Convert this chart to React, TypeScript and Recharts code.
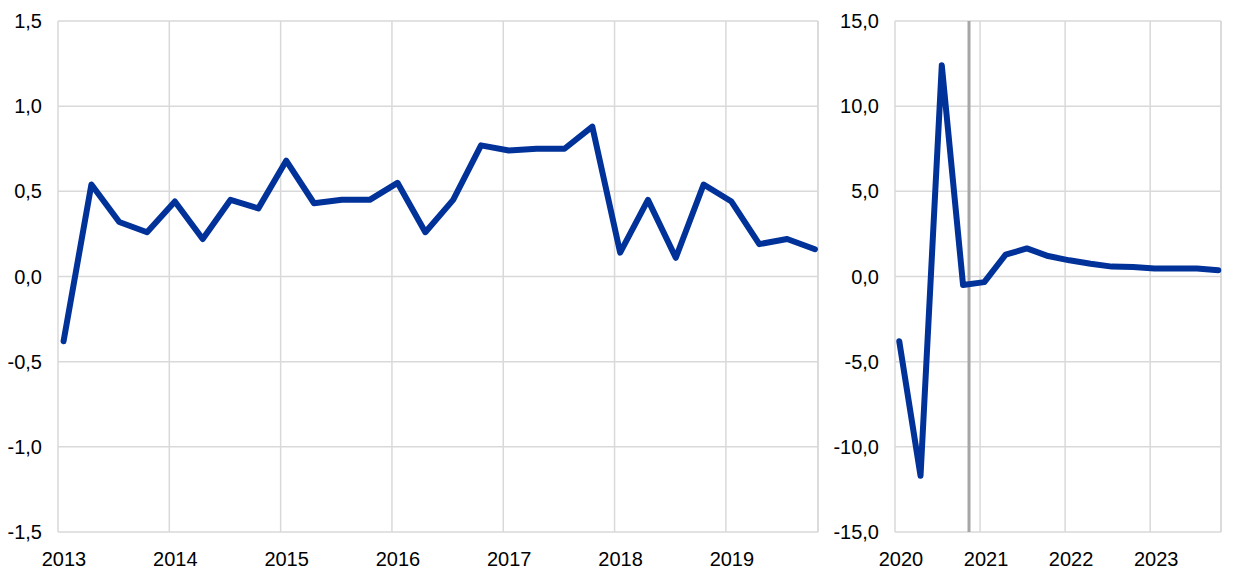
import React from 'react';
import { LineChart, Line, XAxis, YAxis, CartesianGrid, ReferenceLine } from 'recharts';

const leftYears = ['2013', '2014', '2015', '2016', '2017', '2018', '2019'];
const leftValues = [
  -0.38, 0.54, 0.32, 0.26,
  0.44, 0.22, 0.45, 0.40,
  0.68, 0.43, 0.45, 0.45,
  0.55, 0.26, 0.45, 0.77,
  0.74, 0.75, 0.75, 0.88,
  0.14, 0.45, 0.11, 0.54,
  0.44, 0.19, 0.22, 0.16,
];
const leftTicks = [-1.5, -1, -0.5, 0, 0.5, 1, 1.5];

const rightYears = ['2020', '2021', '2022', '2023'];
const rightValues = [
  -3.8, -11.7, 12.4, -0.5,
  -0.33, 1.28, 1.65, 1.2,
  0.95, 0.75, 0.58, 0.56,
  0.47, 0.47, 0.47, 0.37,
];
const rightTicks = [-15, -10, -5, 0, 5, 10, 15];
const projectionStart = 3.48; // quarter index of the vertical marker

const BLUE = '#003299';
const GRID = '#d9d9d9';
const FONT = '"Liberation Sans", Arial, sans-serif';

const leftData = leftValues.map((v, i) => ({ x: i + 0.2, v }));
const rightData = rightValues.map((v, i) => ({ x: i + 0.2, v }));

const fmt = (v: number) => v.toFixed(1).replace('.', ',');

const makeXTick = (years: string[]) => (props: any) => {
  const { x, y, payload } = props;
  const label = years[Math.round(payload.value / 4)];
  return (
    <text x={x + 6} y={y} dy={26} textAnchor="middle" fill="#000" fontSize={20} fontFamily={FONT}>
      {label}
    </text>
  );
};

export default function App() {
  const leftMax = 27.31;
  const rightMax = 15.33;
  return (
    <div style={{ position: 'absolute', left: 0, top: 0, width: 1240, height: 577, background: '#fff' }}>
      <div style={{ position: 'absolute', left: 0, top: 0 }}>
        <LineChart width={830} height={577} data={leftData} margin={{ top: 21, right: 12, bottom: 0, left: 0 }}>
          <CartesianGrid stroke={GRID} strokeWidth={1.5} />
          <XAxis
            dataKey="x"
            type="number"
            domain={[0, leftMax]}
            ticks={[0, 4, 8, 12, 16, 20, 24]}
            height={45}
            axisLine={false}
            tickLine={false}
            tick={makeXTick(leftYears)}
            interval={0}
          />
          <YAxis
            type="number"
            domain={[-1.5, 1.5]}
            ticks={leftTicks}
            width={58}
            axisLine={false}
            tickLine={false}
            tickSize={8}
            tickMargin={8}
            tickFormatter={fmt}
            tick={{ fill: '#000', fontSize: 20, fontFamily: FONT }}
            interval={0}
          />
          <ReferenceLine x={leftMax} stroke={GRID} strokeWidth={1.5} ifOverflow="visible" />
          <Line
            type="linear"
            dataKey="v"
            stroke={BLUE}
            strokeWidth={6}
            dot={false}
            strokeLinejoin="round"
            strokeLinecap="round"
            isAnimationActive={false}
          />
        </LineChart>
      </div>
      <div style={{ position: 'absolute', left: 830, top: 0 }}>
        <LineChart width={410} height={577} data={rightData} margin={{ top: 21, right: 19, bottom: 0, left: 0 }}>
          <CartesianGrid stroke={GRID} strokeWidth={1.5} />
          <XAxis
            dataKey="x"
            type="number"
            domain={[0, rightMax]}
            ticks={[0, 4, 8, 12]}
            height={45}
            axisLine={false}
            tickLine={false}
            tick={makeXTick(rightYears)}
            interval={0}
          />
          <YAxis
            type="number"
            domain={[-15, 15]}
            ticks={rightTicks}
            width={65}
            axisLine={false}
            tickLine={false}
            tickSize={8}
            tickMargin={8}
            tickFormatter={fmt}
            tick={{ fill: '#000', fontSize: 20, fontFamily: FONT }}
            interval={0}
          />
          <ReferenceLine x={rightMax} stroke={GRID} strokeWidth={1.5} ifOverflow="visible" />
          <ReferenceLine x={projectionStart} stroke="#a6a6a6" strokeWidth={3} />
          <Line
            type="linear"
            dataKey="v"
            stroke={BLUE}
            strokeWidth={6}
            dot={false}
            strokeLinejoin="round"
            strokeLinecap="round"
            isAnimationActive={false}
          />
        </LineChart>
      </div>
    </div>
  );
}
